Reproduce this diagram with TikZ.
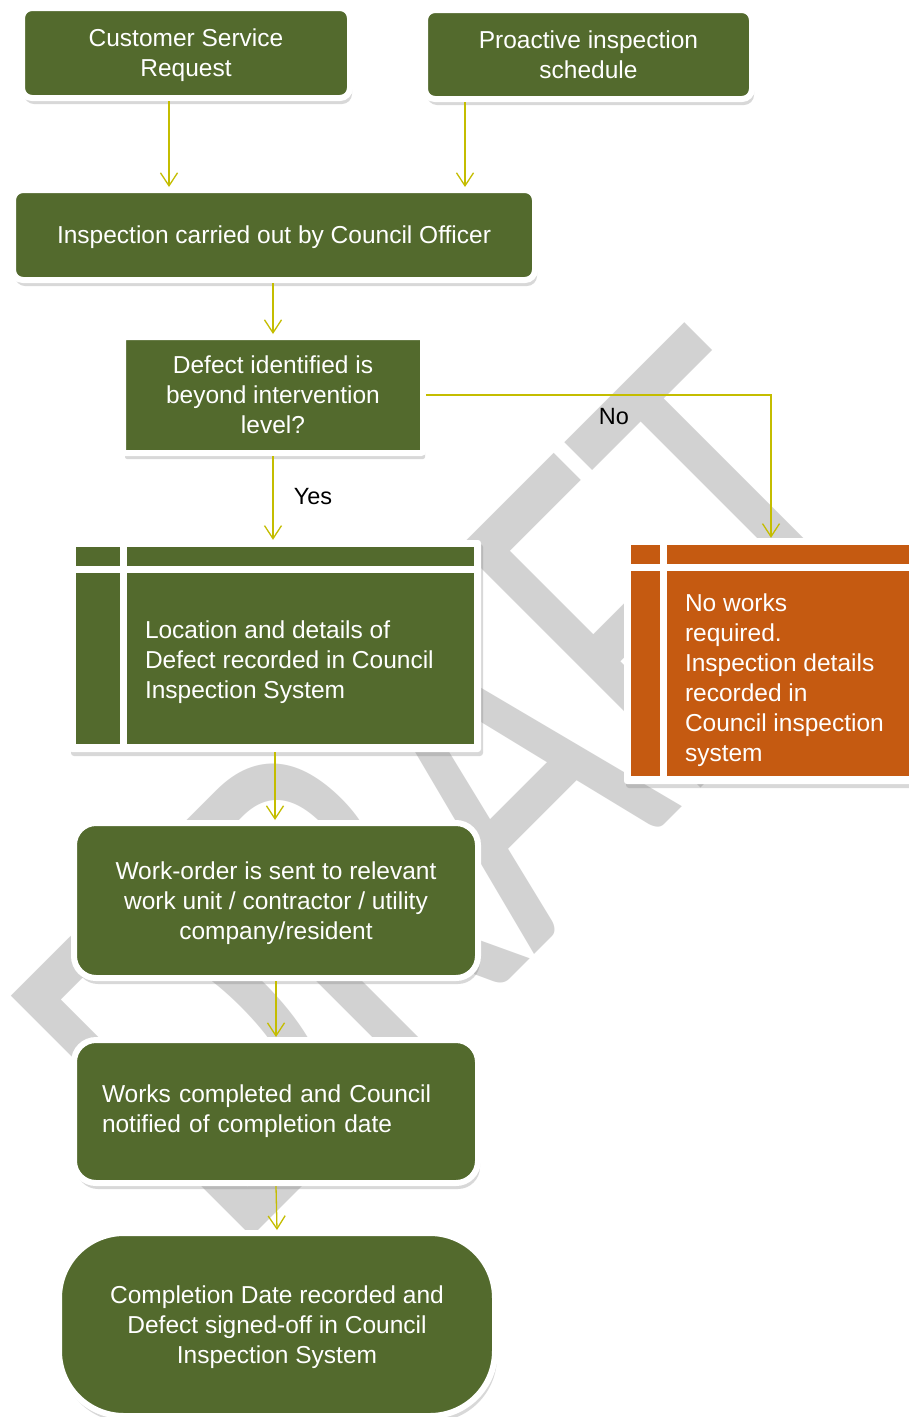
\documentclass[tikz,border=0pt]{standalone}
\usepackage{fontspec}
\usepackage{graphicx}
\setmainfont{Liberation Sans}
\newfontfamily\wmfont{Carlito}
\usetikzlibrary{arrows.meta,shadows,positioning}
\definecolor{leaf}{RGB}{83,106,45}
\definecolor{rust}{RGB}{197,90,17}
\definecolor{flowc}{RGB}{196,189,0}
\definecolor{wmgray}{RGB}{210,210,210}
\tikzstyle{proc}=[draw=white,line width=6pt,fill=leaf,text=white,rounded corners=10pt,inner sep=0pt,align=center,text depth=0pt,font=\fontsize{24.5}{30}\selectfont,drop shadow={shadow xshift=2pt,shadow yshift=-6pt,opacity=0.3}]
\tikzstyle{store}=[fill=white,rounded corners=3pt,inner sep=0pt,drop shadow={shadow xshift=2pt,shadow yshift=-4pt,opacity=0.3}]
\tikzstyle{note}=[text=white,inner sep=0pt,align=left,font=\fontsize{24.5}{30}\selectfont]
\tikzstyle{lbl}=[inner sep=0pt,font=\fontsize{23.5}{28}\selectfont]
\tikzstyle{flow}=[draw=flowc,line width=1.3pt,-{Straight Barb[length=13pt,width=17pt]}]
\tikzstyle{wmark}=[text=wmgray,anchor=base west,inner sep=0pt,rotate=45,font=\wmfont\fontsize{366}{366}\selectfont]
\newcommand{\storecells}[3]{%
  \fill[#3] ([shift={(7pt,-7pt)}]#1.north west) rectangle ([shift={(7pt+#2,-26pt)}]#1.north west);
  \fill[#3] ([shift={(14pt+#2,-7pt)}]#1.north west) rectangle ([shift={(-7pt,-26pt)}]#1.north east);
  \fill[#3] ([shift={(7pt,-33pt)}]#1.north west) rectangle ([shift={(7pt+#2,8pt)}]#1.south west);
  \fill[#3] ([shift={(14pt+#2,-33pt)}]#1.north west) rectangle ([shift={(-7pt,8pt)}]#1.south east);
}

\begin{document}
\begin{tikzpicture}[x=1pt,y=-1pt]
  \useasboundingbox (0,0) rectangle (909,1417);
  \fill[white] (0,0) rectangle (909,1417);
  \clip (0,0) rectangle (909,1417);
  \node[wmark] (draft) at (234,1255) {\scalebox{1}[1.45]{DRAFT}};

  \node[proc,minimum width=328pt,minimum height=90pt] (csr) at (186,53) {Customer Service\\Request};
  \node[proc,minimum width=327pt,minimum height=89pt] (pro) at (588.5,54.5) {Proactive inspection\\schedule};
  \node[proc,minimum width=522pt,minimum height=90pt] (insp) at (274,235) {Inspection carried out by Council Officer};
  \node[proc,rounded corners=2pt,minimum width=300pt,minimum height=116pt] (dec) at (273,395) {Defect identified is\\beyond intervention\\level?};

  \node[store,minimum width=412pt,minimum height=212pt] (locbox) at (275,646) {};
  \storecells{locbox}{44pt}{leaf}
  \node[note,anchor=west] (loctxt) at ([xshift=76pt,yshift=-16pt]locbox.west) {Location and details of\\Defect recorded in Council\\Inspection System};

  \node[store,minimum width=294pt,minimum height=246pt] (nobox) at (771,661) {};
  \storecells{nobox}{29pt}{rust}
  \node[note,anchor=west] (notxt) at ([xshift=61pt,yshift=-19pt]nobox.west) {No works\\required.\\Inspection details\\recorded in\\Council inspection\\system};

  \node[proc,rounded corners=22pt,minimum width=404pt,minimum height=155pt] (work) at (276,900.5) {Work-order is sent to relevant\\work unit / contractor / utility\\company/resident};
  \node[proc,rounded corners=22pt,align=left,text width=348pt,text depth=,minimum width=404pt,minimum height=143pt] (done) at (276,1111.5) {Works completed and Council\\notified of completion date};
  \node[proc,rounded corners=65pt,minimum width=436pt,minimum height=183pt] (signoff) at (277,1324.5) {Completion Date recorded and\\Defect signed-off in Council\\Inspection System};

  \node[lbl] (yes) at (313,497) {Yes};
  \node[lbl] (no) at (614,417) {No};

  \draw[flow] ([xshift=-17pt]csr.south) -- ([xshift=-17pt]csr.south |- insp.north);
  \draw[flow] ([xshift=-123.5pt]pro.south) -- ([xshift=-123.5pt]pro.south |- insp.north);
  \draw[flow] (dec.north |- insp.south) -- (dec.north);
  \draw[flow] (dec.south) -- (dec.south |- locbox.north);
  \draw[flow] (dec.east) -| (nobox.north);
  \draw[flow] (locbox.south) -- (locbox.south |- work.north);
  \draw[flow] (work.south) -- (done.north);
  \draw[flow] (done.south) -- (signoff.north);
\end{tikzpicture}
\end{document}
